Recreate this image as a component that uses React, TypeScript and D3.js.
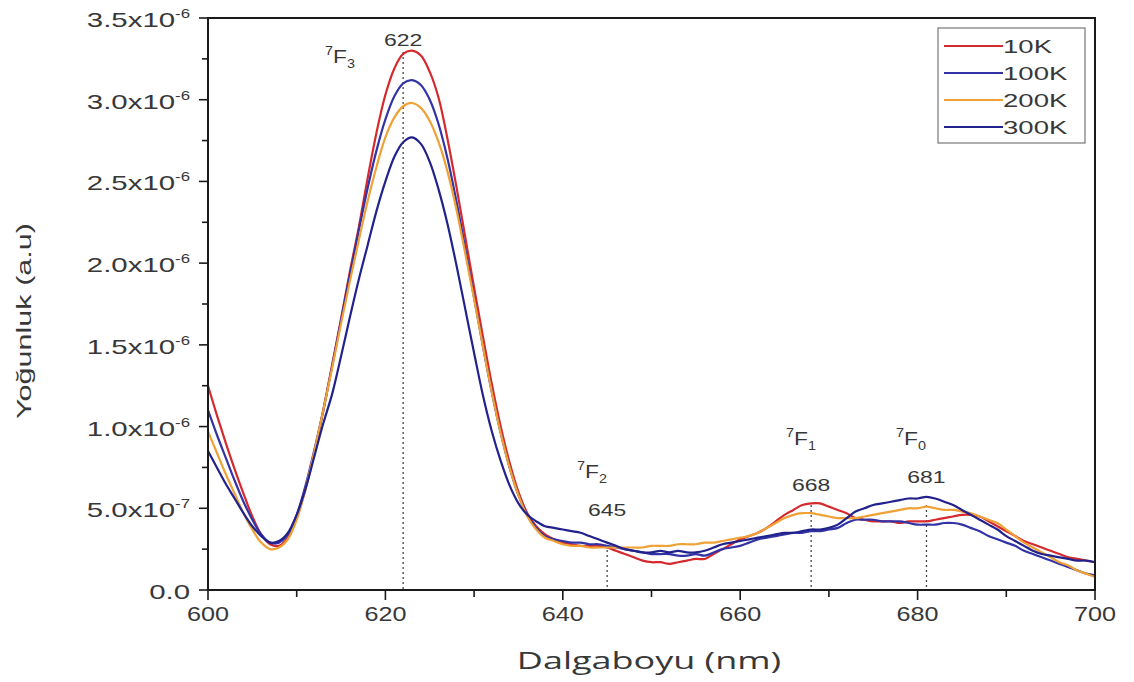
import React from "react";
import * as d3 from "d3";

// Emission spectra, 600–700 nm sampled every 1 nm (intensity in units of 1e-6)
const WAVELENGTHS = d3.range(600, 701, 1);

const I_10K = [
  1.25, 1.07, 0.9, 0.74, 0.59, 0.45, 0.34, 0.28, 0.27, 0.32,
  0.44, 0.62, 0.84, 1.1, 1.38, 1.66, 1.95, 2.22, 2.52, 2.8,
  3.03, 3.19, 3.28, 3.3, 3.27, 3.17, 3.01, 2.76, 2.47, 2.16,
  1.85, 1.55, 1.26, 1.0, 0.78, 0.6, 0.47, 0.39, 0.34, 0.31,
  0.29, 0.28, 0.27, 0.27, 0.27, 0.26, 0.24, 0.22, 0.2, 0.18,
  0.17, 0.17, 0.16, 0.17, 0.18, 0.19, 0.19, 0.22, 0.25, 0.28,
  0.31, 0.33, 0.35, 0.38, 0.42, 0.46, 0.49, 0.52, 0.53, 0.53,
  0.51, 0.49, 0.47, 0.44, 0.43, 0.42, 0.42, 0.42, 0.41, 0.42,
  0.42, 0.42, 0.43, 0.44, 0.45, 0.46, 0.46, 0.45, 0.42, 0.39,
  0.36, 0.33, 0.3, 0.28, 0.26, 0.24, 0.22, 0.2, 0.19, 0.18,
  0.17,
];

const I_100K = [
  1.1, 0.95, 0.81, 0.67, 0.54, 0.43, 0.34, 0.29, 0.29, 0.34,
  0.46, 0.64, 0.86, 1.1, 1.37, 1.65, 1.93, 2.2, 2.46, 2.69,
  2.88, 3.02, 3.1, 3.12, 3.09, 3.0, 2.85, 2.64, 2.38, 2.09,
  1.79, 1.49, 1.21, 0.96, 0.75, 0.58, 0.46, 0.38, 0.33, 0.31,
  0.3, 0.29, 0.29, 0.28, 0.28, 0.27, 0.26, 0.25, 0.24, 0.23,
  0.22, 0.22, 0.22, 0.21, 0.21, 0.22, 0.21, 0.23, 0.25, 0.26,
  0.27, 0.29, 0.31, 0.32, 0.33, 0.34, 0.35, 0.35, 0.36, 0.36,
  0.37, 0.38, 0.41, 0.43, 0.43, 0.43, 0.42, 0.42, 0.42, 0.41,
  0.4, 0.4, 0.4, 0.41, 0.41, 0.4, 0.38, 0.36, 0.33, 0.31,
  0.29, 0.27, 0.24, 0.22, 0.2, 0.18, 0.16, 0.14, 0.12, 0.1,
  0.09,
];

const I_200K = [
  0.97, 0.84, 0.71, 0.59, 0.47, 0.37, 0.29, 0.25, 0.26, 0.31,
  0.43, 0.62, 0.85, 1.1, 1.36, 1.63, 1.89, 2.14, 2.38, 2.59,
  2.77, 2.89, 2.96, 2.98, 2.95, 2.87, 2.74, 2.56, 2.33, 2.06,
  1.78, 1.49, 1.21, 0.96, 0.75, 0.58, 0.45, 0.37, 0.32, 0.3,
  0.28, 0.27, 0.27, 0.26, 0.26, 0.26, 0.26, 0.26, 0.26, 0.26,
  0.27, 0.27, 0.27, 0.28, 0.28, 0.28, 0.29, 0.29, 0.3, 0.31,
  0.32, 0.33, 0.35, 0.38, 0.41, 0.44, 0.46, 0.47, 0.47, 0.46,
  0.45, 0.44, 0.44, 0.44, 0.45, 0.46, 0.47, 0.48, 0.49, 0.5,
  0.5, 0.51, 0.5, 0.49, 0.49, 0.48, 0.47, 0.45, 0.43, 0.41,
  0.37, 0.33, 0.29, 0.26, 0.23, 0.2, 0.17, 0.15, 0.12, 0.1,
  0.08,
];

const I_300K = [
  0.85, 0.75, 0.65, 0.56, 0.47, 0.39, 0.33, 0.29, 0.3, 0.35,
  0.46, 0.62, 0.82, 1.02, 1.2, 1.43, 1.67, 1.9, 2.11, 2.32,
  2.5, 2.65, 2.74, 2.77, 2.73, 2.62, 2.45, 2.24, 1.99, 1.72,
  1.45, 1.19, 0.97, 0.79, 0.64, 0.53, 0.46, 0.42, 0.39, 0.38,
  0.37, 0.36, 0.35, 0.33, 0.31, 0.29, 0.27, 0.25, 0.24, 0.23,
  0.23, 0.24, 0.23, 0.24, 0.23, 0.23, 0.24, 0.26, 0.28, 0.29,
  0.3, 0.31, 0.32, 0.33, 0.34, 0.35, 0.35, 0.36, 0.37, 0.37,
  0.38, 0.4, 0.44, 0.48, 0.5, 0.52, 0.53, 0.54, 0.55, 0.56,
  0.56, 0.57, 0.56, 0.54, 0.52, 0.49, 0.46, 0.43, 0.4, 0.37,
  0.33, 0.3, 0.27, 0.24, 0.22, 0.21, 0.2, 0.19, 0.18, 0.18,
  0.17,
];

const SERIES_NAMES = ["10K", "100K", "200K", "300K"];
const SERIES_VALUES = [I_10K, I_100K, I_200K, I_300K];
const SERIES_COLORS = ["#d42a2e", "#3333a6", "#efa136", "#22228c"];

const Y_TICKS = [0, 0.5, 1.0, 1.5, 2.0, 2.5, 3.0, 3.5];
const Y_TICK_LABELS: [string, string][] = [
  ["0.0", ""],
  ["5.0x10", "-7"],
  ["1.0x10", "-6"],
  ["1.5x10", "-6"],
  ["2.0x10", "-6"],
  ["2.5x10", "-6"],
  ["3.0x10", "-6"],
  ["3.5x10", "-6"],
];
const X_TICKS = [600, 620, 640, 660, 680, 700];

// Transition markers: term symbol (subscript J) and peak wavelength
const PEAK_NM = [622, 645, 668, 681];
const PEAK_J = ["3", "2", "1", "0"];

const W = 1134;
const H = 682;
const M = { left: 208, right: 1095, top: 18, bottom: 590 };
const SANS = "'Liberation Sans', Arial, sans-serif";
const INK = "#383838";

// Text drawn with a horizontal stretch factor
function WideText({
  x,
  y,
  sx,
  anchor = "start",
  size,
  family,
  children,
}: {
  x: number;
  y: number;
  sx: number;
  anchor?: "start" | "middle" | "end";
  size: number;
  family?: string;
  children: React.ReactNode;
}) {
  return (
    <g transform={`translate(${x},${y}) scale(${sx},1)`}>
      <text x={0} y={0} textAnchor={anchor} fontSize={size} fill={INK} fontFamily={family}>
        {children}
      </text>
    </g>
  );
}

export default function App() {
  const x = d3.scaleLinear().domain([600, 700]).range([M.left, M.right]);
  const y = d3.scaleLinear().domain([0, 3.5]).range([M.bottom, M.top]);

  const line = (vals: number[]) =>
    d3
      .line<number>()
      .x((_, i) => x(WAVELENGTHS[i]))
      .y((v) => y(v))
      .curve(d3.curveCatmullRom.alpha(0.5))(vals) as string;

  const yMinor = d3.range(0, 3.51, 0.25);
  const xMinor = d3.range(600, 701, 10);

  // label placement around each dotted marker
  const termPos = [
    { tx: 325, ty: 63, vy: 46, lineTop: 52 },
    { tx: 577, ty: 478, vy: 516, lineTop: 550 },
    { tx: 786, ty: 445, vy: 491, lineTop: 505 },
    { tx: 896, ty: 445, vy: 483, lineTop: 505 },
  ];

  return (
    <svg
      width={W}
      height={H}
      style={{ position: "absolute", left: 0, top: 0, background: "#fff" }}
      fontFamily={SANS}
    >
      <rect width={W} height={H} fill="#fff" />

      {/* dotted peak markers */}
      {PEAK_NM.map((nm, i) => (
        <line
          key={"pk" + i}
          x1={x(nm)}
          x2={x(nm)}
          y1={termPos[i].lineTop}
          y2={M.bottom}
          stroke="#444"
          strokeWidth={1.3}
          strokeDasharray="2,3"
        />
      ))}

      {/* spectra */}
      {SERIES_VALUES.map((vals, i) => (
        <path
          key={SERIES_NAMES[i]}
          d={line(vals)}
          fill="none"
          stroke={SERIES_COLORS[i]}
          strokeWidth={2.2}
          strokeLinejoin="round"
        />
      ))}

      {/* frame */}
      <rect
        x={M.left}
        y={M.top}
        width={M.right - M.left}
        height={M.bottom - M.top}
        fill="none"
        stroke="#1a1a1a"
        strokeWidth={2}
      />

      {/* y ticks */}
      {yMinor.map((v) => {
        const major = Math.abs(v * 2 - Math.round(v * 2)) < 1e-6;
        return (
          <line
            key={"ym" + v}
            x1={M.left}
            x2={M.left - (major ? 9 : 6)}
            y1={y(v)}
            y2={y(v)}
            stroke="#1a1a1a"
            strokeWidth={1.6}
          />
        );
      })}
      {Y_TICKS.map((v, i) => (
        <WideText key={"yl" + v} x={190} y={y(v) + 9} sx={1.4} anchor="end" size={21}>
          {Y_TICK_LABELS[i][0]}
          {Y_TICK_LABELS[i][1] && (
            <tspan fontSize={12} dy={-9}>
              {Y_TICK_LABELS[i][1]}
            </tspan>
          )}
        </WideText>
      ))}

      {/* x ticks */}
      {xMinor.map((v) => {
        const major = v % 20 === 0;
        return (
          <line
            key={"xm" + v}
            x1={x(v)}
            x2={x(v)}
            y1={M.bottom}
            y2={M.bottom + (major ? 10 : 7)}
            stroke="#1a1a1a"
            strokeWidth={1.6}
          />
        );
      })}
      {X_TICKS.map((v) => (
        <WideText key={"xl" + v} x={x(v)} y={621} sx={1.2} anchor="middle" size={21}>
          {v}
        </WideText>
      ))}

      {/* axis titles */}
      <WideText
        x={649}
        y={669}
        sx={1.5}
        anchor="middle"
        size={24}
        family="'Open Sans', 'Noto Sans', sans-serif"
      >
        Dalgaboyu (nm)
      </WideText>
      <g transform="translate(31,321) rotate(-90)">
        <text
          x={0}
          y={0}
          textAnchor="middle"
          fontSize={21}
          fill={INK}
          textLength={196}
          lengthAdjust="spacingAndGlyphs"
        >
          Yoğunluk (a.u)
        </text>
      </g>

      {/* term symbols and peak positions */}
      {PEAK_NM.map((nm, i) => (
        <g key={"lbl" + i}>
          <WideText x={termPos[i].tx} y={termPos[i].ty} sx={1.2} size={19}>
            <tspan fontSize={12} dy={-8}>7</tspan>
            <tspan dy={8}>F</tspan>
            <tspan fontSize={12} dy={5}>{PEAK_J[i]}</tspan>
          </WideText>
          <WideText x={x(nm)} y={termPos[i].vy} sx={1.35} anchor="middle" size={17}>
            {nm}
          </WideText>
        </g>
      ))}

      {/* legend */}
      <g>
        <rect x={938} y={28} width={147} height={115} fill="#fff" stroke="#777" strokeWidth={1.2} />
        {SERIES_NAMES.map((name, i) => (
          <g key={"lg" + name}>
            <line
              x1={944}
              x2={1003}
              y1={46 + i * 27}
              y2={46 + i * 27}
              stroke={SERIES_COLORS[i]}
              strokeWidth={2.2}
            />
            <WideText x={1003} y={46 + i * 27 + 7} sx={1.45} size={19}>
              {name}
            </WideText>
          </g>
        ))}
      </g>
    </svg>
  );
}
